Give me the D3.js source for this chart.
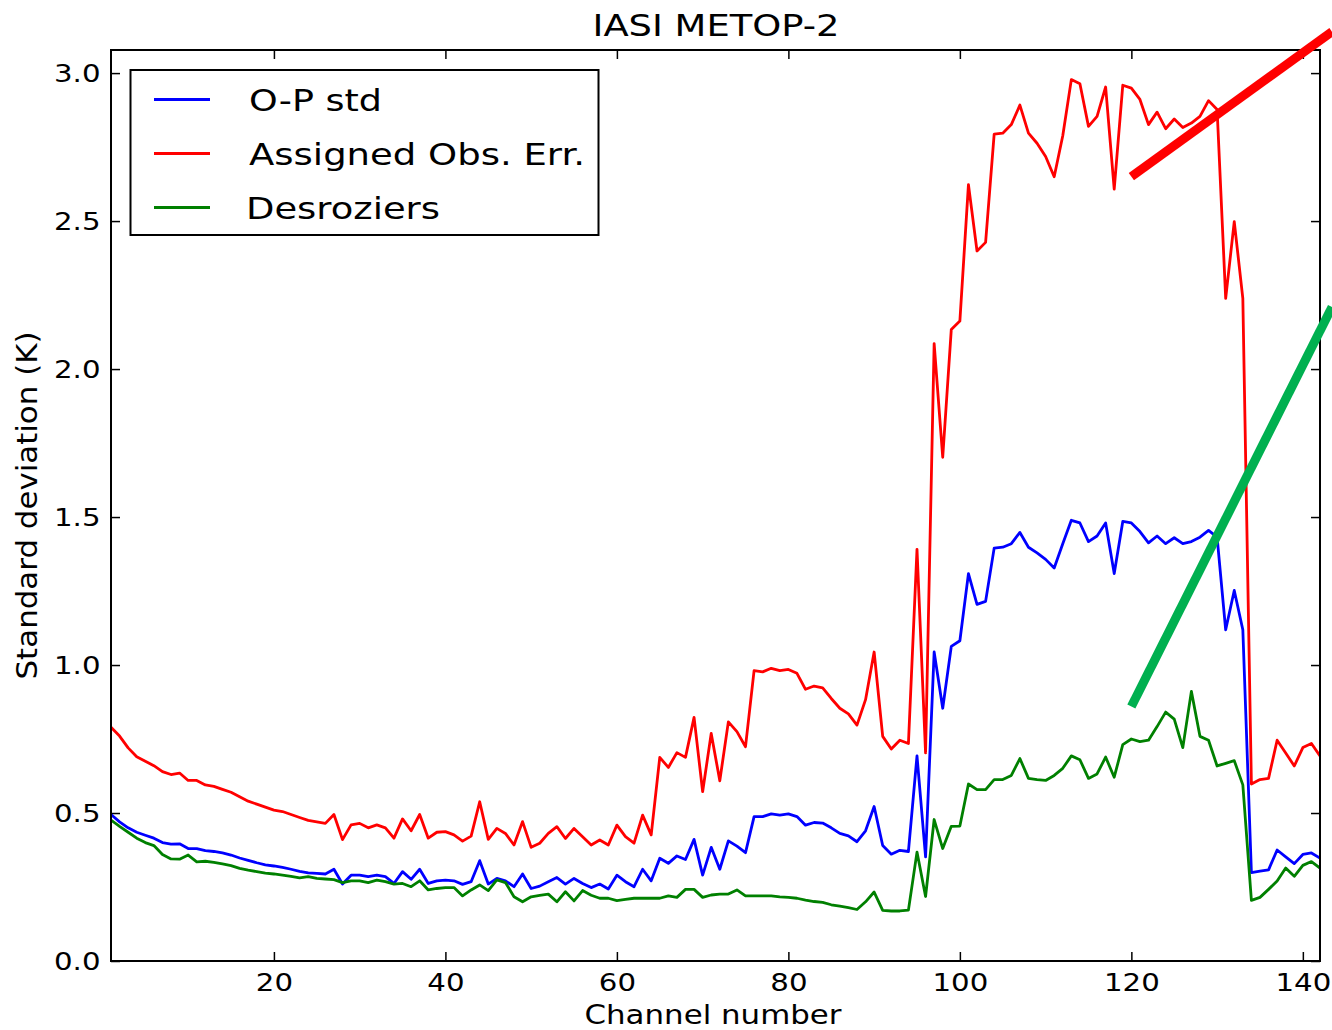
<!DOCTYPE html>
<html>
<head>
<meta charset="utf-8">
<script src="https://cdn.jsdelivr.net/npm/d3@7"></script>
<style>
  html, body { margin: 0; padding: 0; background: #fff; }
  svg { display: block; }
  text { font-family: "DejaVu Sans", sans-serif; fill: #000; }
</style>
</head>
<body>
<svg id="chart" width="1332" height="1030"></svg>
<script>
const chartTitle = "IASI METOP-2";
const xLabel = "Channel number";
const yLabel = "Standard deviation (K)";
const seriesNames = ["O-P std", "Assigned Obs. Err.", "Desroziers"];
const seriesColors = ["#0000ff", "#ff0000", "#008000"];

const channels = [1,2,3,4,5,6,7,8,9,10,11,12,13,14,15,16,17,18,19,20,21,22,23,24,25,26,27,28,29,30,
31,32,33,34,35,36,37,38,39,40,41,42,43,44,45,46,47,48,49,50,51,52,53,54,55,56,57,58,59,60,
61,62,63,64,65,66,67,68,69,70,71,72,73,74,75,76,77,78,79,80,81,82,83,84,85,86,87,88,89,90,
91,92,93,94,95,96,97,98,99,100,101,102,103,104,105,106,107,108,109,110,111,112,113,114,115,116,117,118,119,120,
121,122,123,124,125,126,127,128,129,130,131,132,133,134,135,136,137,138,139,140,141,142];

const opStd = [0.495,0.47,0.45,0.435,0.425,0.415,0.40,0.395,0.396,0.38,0.38,0.373,0.37,0.365,0.358,0.348,0.34,0.332,0.325,0.321,
0.316,0.31,0.303,0.298,0.296,0.294,0.31,0.26,0.29,0.29,0.285,0.29,0.285,0.262,0.302,0.276,0.31,0.262,0.271,0.273,
0.271,0.259,0.268,0.339,0.26,0.279,0.271,0.251,0.294,0.245,0.253,0.268,0.282,0.26,0.279,0.262,0.248,0.26,0.243,0.29,
0.268,0.251,0.31,0.271,0.347,0.33,0.355,0.343,0.411,0.29,0.384,0.31,0.406,0.388,0.366,0.488,0.488,0.497,0.493,0.497,
0.488,0.459,0.468,0.466,0.45,0.431,0.423,0.403,0.44,0.522,0.39,0.361,0.374,0.37,0.693,0.352,1.044,0.854,1.063,1.082,
1.309,1.205,1.215,1.395,1.398,1.41,1.448,1.398,1.379,1.357,1.328,1.41,1.489,1.48,1.417,1.436,1.48,1.309,1.485,1.48,
1.451,1.413,1.436,1.41,1.43,1.41,1.417,1.432,1.455,1.432,1.119,1.252,1.119,0.299,0.304,0.308,0.375,0.352,0.329,0.36,
0.365,0.348];

const assignedErr = [0.79,0.76,0.72,0.69,0.675,0.66,0.64,0.63,0.635,0.61,0.61,0.595,0.59,0.58,0.57,0.555,0.54,0.53,0.52,0.51,
0.505,0.495,0.485,0.475,0.47,0.465,0.495,0.41,0.46,0.465,0.45,0.46,0.45,0.415,0.48,0.44,0.495,0.415,0.435,0.437,
0.426,0.405,0.422,0.538,0.411,0.448,0.431,0.392,0.471,0.384,0.398,0.431,0.454,0.414,0.448,0.42,0.392,0.409,0.392,0.459,
0.42,0.398,0.493,0.426,0.688,0.654,0.704,0.688,0.823,0.572,0.769,0.609,0.808,0.775,0.724,0.981,0.977,0.989,0.981,0.985,
0.972,0.918,0.929,0.923,0.887,0.854,0.835,0.797,0.883,1.044,0.759,0.716,0.746,0.735,1.391,0.703,2.086,1.702,2.134,2.162,
2.623,2.399,2.428,2.794,2.797,2.826,2.892,2.797,2.763,2.718,2.65,2.788,2.978,2.964,2.82,2.854,2.953,2.608,2.959,2.949,
2.911,2.826,2.868,2.812,2.845,2.816,2.831,2.854,2.907,2.877,2.239,2.498,2.239,0.598,0.613,0.617,0.746,0.703,0.659,0.721,
0.735,0.693];

const desroziers = [0.476,0.455,0.435,0.415,0.40,0.39,0.36,0.345,0.344,0.358,0.335,0.337,0.333,0.328,0.322,0.313,0.307,0.302,0.297,0.294,
0.29,0.286,0.281,0.285,0.279,0.277,0.275,0.265,0.271,0.271,0.265,0.273,0.268,0.26,0.262,0.251,0.271,0.24,0.245,0.248,
0.248,0.22,0.24,0.257,0.238,0.274,0.265,0.217,0.2,0.217,0.222,0.226,0.2,0.234,0.203,0.238,0.222,0.212,0.212,0.204,
0.208,0.212,0.212,0.212,0.212,0.22,0.215,0.242,0.242,0.215,0.223,0.226,0.226,0.24,0.22,0.22,0.22,0.22,0.217,0.215,
0.212,0.206,0.201,0.198,0.19,0.185,0.18,0.174,0.2,0.233,0.171,0.169,0.169,0.172,0.368,0.218,0.478,0.38,0.455,0.456,
0.598,0.579,0.579,0.613,0.613,0.627,0.684,0.617,0.613,0.61,0.627,0.651,0.693,0.68,0.617,0.632,0.689,0.621,0.731,0.75,
0.741,0.746,0.792,0.841,0.817,0.721,0.911,0.759,0.746,0.659,0.668,0.677,0.595,0.205,0.215,0.242,0.27,0.314,0.286,0.323,
0.336,0.314];

const xTicks = [20, 40, 60, 80, 100, 120, 140];
const yTicks = [0.0, 0.5, 1.0, 1.5, 2.0, 2.5, 3.0];

// hand-drawn annotation strokes (in data units)
const annotRed = [[120.0, 2.65], [143.4, 3.14]];
const annotGreen = [[120.0, 0.86], [143.4, 2.21]];

const svg = d3.select("#chart");
svg.append("rect").attr("width", 1332).attr("height", 1030).attr("fill", "#fff");

const L = 111, R = 1320, T = 50, B = 961;
const x = d3.scaleLinear().domain([1, 142]).range([L, R]);
const y = d3.scaleLinear().domain([0, 3.078]).range([B, T]);
const SX = 1.17; // horizontal stretch of the reference's lettering

svg.append("clipPath").attr("id", "plotclip")
  .append("rect").attr("x", L).attr("y", T).attr("width", R - L).attr("height", B - T);

// axes (ticks inward, on all four sides)
const tickLen = 9;
const gBottom = svg.append("g").attr("transform", `translate(0,${B})`)
  .call(d3.axisBottom(x).tickValues(xTicks).tickSizeInner(-tickLen).tickSizeOuter(0).tickPadding(12).tickFormat(d3.format("d")));
const gTop = svg.append("g").attr("transform", `translate(0,${T})`)
  .call(d3.axisTop(x).tickValues(xTicks).tickSizeInner(-tickLen).tickSizeOuter(0).tickFormat(""));
const gLeft = svg.append("g").attr("transform", `translate(${L},0)`)
  .call(d3.axisLeft(y).tickValues(yTicks).tickSizeInner(-tickLen).tickSizeOuter(0).tickPadding(9).tickFormat(d3.format(".1f")));
const gRight = svg.append("g").attr("transform", `translate(${R},0)`)
  .call(d3.axisRight(y).tickValues(yTicks).tickSizeInner(-tickLen).tickSizeOuter(0).tickFormat(""));

[gBottom, gTop, gLeft, gRight].forEach(g => {
  g.select(".domain").remove();
  g.selectAll(".tick line").attr("stroke", "#000").attr("stroke-width", 1.5);
  g.selectAll(".tick text").style("font-family", "DejaVu Sans").style("font-size", "25px")
    .attr("fill", "#000").attr("transform", `scale(${SX},1)`);
});
gBottom.selectAll(".tick text").attr("dy", "0.71em");

// series lines
const seriesData = [opStd, assignedErr, desroziers];
const line = d3.line().x((d, i) => x(channels[i])).y(d => y(d));
const gLines = svg.append("g").attr("clip-path", "url(#plotclip)");
seriesData.forEach((vals, k) => {
  gLines.append("path")
    .datum(vals)
    .attr("fill", "none")
    .attr("stroke", seriesColors[k])
    .attr("stroke-width", 2.8)
    .attr("stroke-linejoin", "round")
    .attr("d", line);
});

// frame
svg.append("rect").attr("x", L).attr("y", T).attr("width", R - L).attr("height", B - T)
  .attr("fill", "none").attr("stroke", "#000").attr("stroke-width", 2);

// legend
const lg = svg.append("g");
lg.append("rect").attr("x", 130.5).attr("y", 70).attr("width", 468).attr("height", 165)
  .attr("fill", "#fff").attr("stroke", "#000").attr("stroke-width", 2);
const legendY = [99.5, 153.5, 207.5];
const legendTextX = [249, 249, 246];
const legendTextW = [133, 336, 194];
seriesNames.forEach((name, k) => {
  lg.append("line").attr("x1", 154).attr("x2", 210).attr("y1", legendY[k]).attr("y2", legendY[k])
    .attr("stroke", seriesColors[k]).attr("stroke-width", 2.8);
  lg.append("text").attr("x", legendTextX[k]).attr("y", legendY[k]).attr("dy", "0.36em")
    .attr("textLength", legendTextW[k]).attr("lengthAdjust", "spacingAndGlyphs")
    .style("font-size", "31px").text(name);
});

// title and axis labels
svg.append("text").attr("x", 716).attr("y", 36).attr("text-anchor", "middle")
  .attr("textLength", 247).attr("lengthAdjust", "spacingAndGlyphs")
  .style("font-size", "31px").text(chartTitle);
svg.append("text").attr("x", 713).attr("y", 1024).attr("text-anchor", "middle")
  .attr("textLength", 257).attr("lengthAdjust", "spacingAndGlyphs")
  .style("font-size", "27px").text(xLabel);
svg.append("text").attr("transform", `translate(37,${(T + B) / 2}) rotate(-90)`).attr("text-anchor", "middle")
  .attr("textLength", 348).attr("lengthAdjust", "spacingAndGlyphs")
  .style("font-size", "29px").text(yLabel);

// annotation strokes (drawn over everything, not clipped)
const aLine = d3.line().x(d => x(d[0])).y(d => y(d[1]));
svg.append("path").datum(annotRed).attr("d", aLine)
  .attr("stroke", "#ff0000").attr("stroke-width", 9).attr("fill", "none");
svg.append("path").datum(annotGreen).attr("d", aLine)
  .attr("stroke", "#00b050").attr("stroke-width", 9).attr("fill", "none");
</script>
</body>
</html>
